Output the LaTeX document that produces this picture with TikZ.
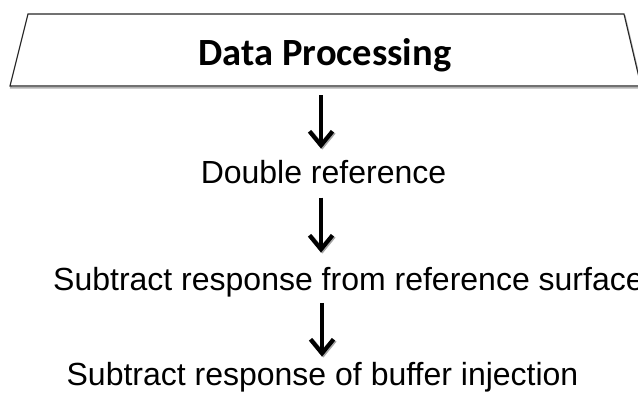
\documentclass[tikz,border=0pt]{standalone}
\usepackage{fontspec}
\setmainfont{Liberation Sans}
\newfontfamily\titlefont{Carlito}
\usetikzlibrary{arrows.meta}

\tikzset{
  steptext/.style={inner sep=0pt, anchor=base, font=\fontsize{32}{36}\selectfont},
  titletext/.style={inner sep=0pt, anchor=base, font=\titlefont\bfseries\fontsize{38.5}{42}\selectfont},
  banner/.style={draw=black!85, line width=1.1pt, fill=white,
    preaction={draw=black!30, line width=1.6pt, transform canvas={shift={(0.8pt,-1.8pt)}}}},
  flowarrow/.style={line width=3.4pt,
    -{Straight Barb[length=14pt,width=23pt,line width=4.2pt]},
    preaction={draw=black!35, transform canvas={shift={(1.4pt,-1pt)}}}}
}

\begin{document}
\begin{tikzpicture}[x=1pt,y=-1pt]
  \useasboundingbox (0,0) rectangle (638,394);

  % heading banner
  \draw[banner] (28,14) -- (624,14) -- (641,86) -- (10,86) -- cycle;
  \node[titletext] (title) at (325,65) {Data Processing};
  \coordinate (bannerbot) at (321,86);

  % processing steps
  \node[steptext] (dbl) at (323.5,183) {Double reference};
  \node[steptext, anchor=base west] (sub1) at (53,290) {Subtract response from reference surface};
  \node[steptext] (sub2) at (322.5,385) {Subtract response of buffer injection};

  % connectors
  \draw[flowarrow, shorten <=9pt, shorten >=11pt]
    (bannerbot) -- (bannerbot |- dbl.north);
  \draw[flowarrow, shorten <=14pt, shorten >=14pt]
    (bannerbot |- dbl.south) -- (bannerbot |- sub1.north);
  \draw[flowarrow, shorten <=6pt, shorten >=5pt]
    ([xshift=1pt]bannerbot |- sub1.south) -- ([xshift=1pt]bannerbot |- sub2.north);
\end{tikzpicture}
\end{document}
